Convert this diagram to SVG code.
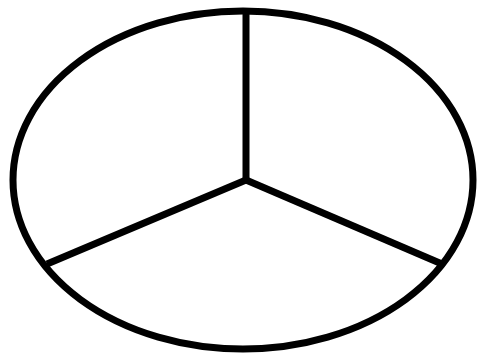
<svg xmlns="http://www.w3.org/2000/svg" width="483" height="356" viewBox="0 0 483 356">
<style>.s{fill:none;stroke:#000;stroke-width:7}</style>
<rect width="483" height="356" fill="#fff"/>
<g id="outline"><ellipse class="s" cx="243" cy="180" rx="230" ry="169"/></g>
<g id="connectors">
<line class="s" x1="246" y1="180" x2="246" y2="11"/>
<line class="s" x1="246" y1="180" x2="47" y2="264"/>
<line class="s" x1="246" y1="180" x2="442" y2="264"/>
</g>
</svg>
